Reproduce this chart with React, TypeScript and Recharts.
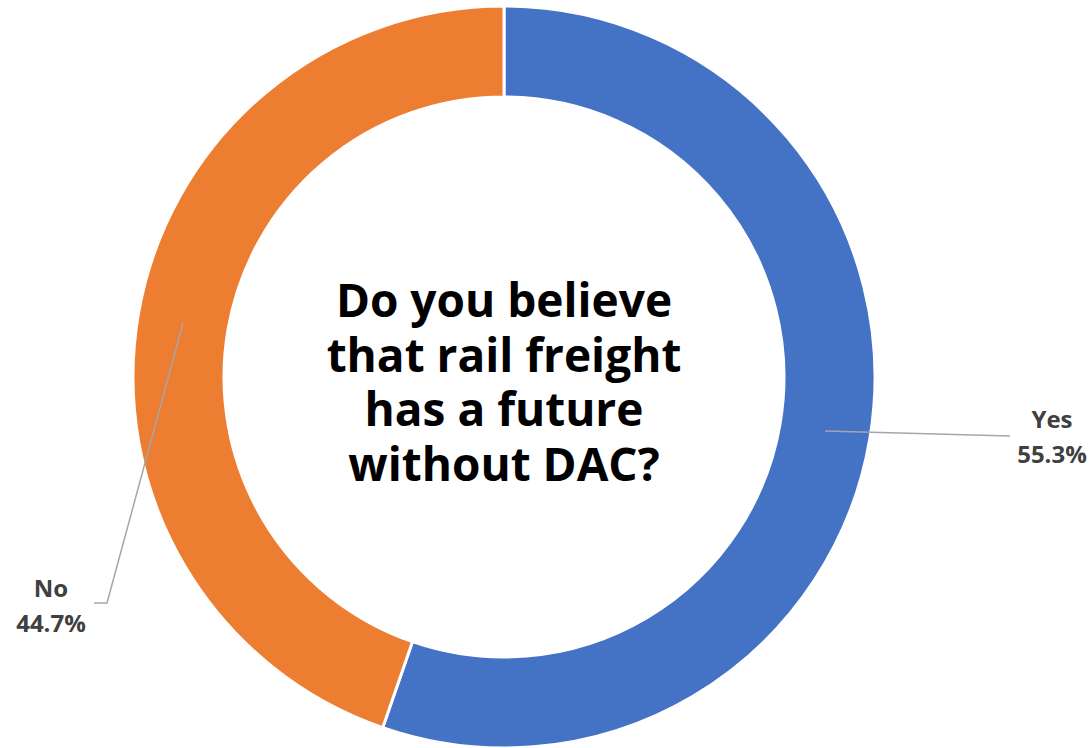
import React from "react";
import { PieChart, Pie, Cell, Label } from "recharts";

const categories = ["Yes", "No"];
const values = [55.3, 44.7];
const colors = ["#4472C4", "#ED7D31"];
const titleLines = ["Do you believe", "that rail freight", "has a future", "without DAC?"];

const data = categories.map((name, i) => ({ name, value: values[i] }));

// label layout (style only): leader end offsets and text anchors relative to centre
const labelLayout: Record<string, { end: [number, number]; elbow?: [number, number]; text: [number, number] }> = {
  Yes: { end: [506, 59], text: [548, 51] },
  No: { end: [-397, 226], elbow: [-410, 226], text: [-453, 220] },
};

const RADIAN = Math.PI / 180;

const renderLabel = (props: any) => {
  const { cx, cy, midAngle, innerRadius, outerRadius, name, value } = props;
  const r = (innerRadius + outerRadius) / 2;
  const sx = cx + r * Math.cos(-midAngle * RADIAN);
  const sy = cy + r * Math.sin(-midAngle * RADIAN);
  const lay = labelLayout[name];
  if (!lay) return null;
  const ex = cx + lay.end[0];
  const ey = cy + lay.end[1];
  let pts = `${sx},${sy} ${ex},${ey}`;
  if (lay.elbow) pts += ` ${cx + lay.elbow[0]},${cy + lay.elbow[1]}`;
  const tx = cx + lay.text[0];
  const ty = cy + lay.text[1];
  return (
    <g>
      <polyline points={pts} fill="none" stroke="#A6A6A6" strokeWidth={1.5} />
      <text
        x={tx}
        y={ty}
        textAnchor="middle"
        fill="#404040"
        fontFamily="'Open Sans', sans-serif"
        fontWeight={700}
        fontSize={24}
      >
        <tspan x={tx} dy={0}>{name}</tspan>
        <tspan x={tx} dy={35}>{`${value.toFixed(1)}%`}</tspan>
      </text>
    </g>
  );
};

const CenterTitle = (props: any) => {
  const vb = props.viewBox || {};
  const cx = vb.cx ?? 504;
  const cy = vb.cy ?? 377;
  const lh = 54.5;
  const first = cy - 60;
  return (
    <text
      x={cx}
      y={first}
      textAnchor="middle"
      fill="#000000"
      fontFamily="'Open Sans', sans-serif"
      fontWeight={700}
      fontSize={46}
    >
      {titleLines.map((line, i) => (
        <tspan key={i} x={cx} y={first + i * lh}>
          {line}
        </tspan>
      ))}
    </text>
  );
};

export default function App() {
  return (
    <div style={{ position: "absolute", left: 0, top: 0, width: 1092, height: 748, background: "#ffffff" }}>
      <PieChart width={1092} height={748} margin={{ top: 0, right: 0, bottom: 0, left: 0 }}>
        <Pie
          data={data}
          dataKey="value"
          nameKey="name"
          cx={504}
          cy={377}
          innerRadius={280}
          outerRadius={371}
          startAngle={90}
          endAngle={-270}
          stroke="#ffffff"
          strokeWidth={3}
          label={renderLabel}
          labelLine={false}
          isAnimationActive={false}
        >
          {data.map((d, i) => (
            <Cell key={d.name} fill={colors[i]} />
          ))}
          <Label position="center" content={<CenterTitle />} />
        </Pie>
      </PieChart>
    </div>
  );
}
